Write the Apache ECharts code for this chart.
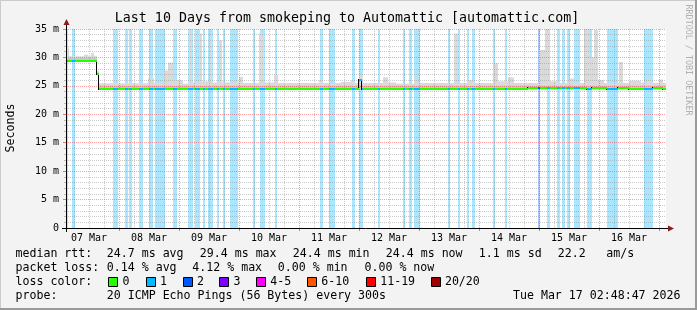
<!DOCTYPE html>
<html><head><meta charset="utf-8">
<script src="https://cdn.jsdelivr.net/npm/echarts@6/dist/echarts.min.js"></script>
<style>html,body{margin:0;padding:0;background:#f3f3f3;overflow:hidden}#c{width:697px;height:310px}</style>
</head><body><div id="c"></div>
<script>
// ---------------- DATA (x = hours since 07 Mar 00:00) ----------------
const chartTitle = 'Last 10 Days from smokeping to Automattic [automattic.com]';
const startHour = 2.8131;   // 07 Mar 02:48:47
const endHour = 242.8131;   // 17 Mar 02:48:47
const dayLabels = ['07 Mar','08 Mar','09 Mar','10 Mar','11 Mar','12 Mar','13 Mar','14 Mar','15 Mar','16 Mar'];
const dayLabelHours = [12,36,60,84,108,132,156,180,204,228];
const majorGridHours = [24,48,72,96,120,144,168,192,216,240];
const minorGridHours = [6,12,18,30,36,42,54,60,66,78,84,90,102,108,114,126,132,138,150,156,162,174,180,186,198,204,210,222,228,234];
const yMin = 0, yMax = 35, yStep = 5;

// loss background bars: [startHour, endHour, lostPings]
const lossBars = [
  [2.9,3.8,1],[5.4,6.3,1],[21.5,23.6,1],[26.3,27.5,1],[28.2,29.2,1],[32.2,33.5,1],
  [36.2,37.5,1],[38.3,42.3,1],[45.5,47.4,1],[51.6,53.8,1],[54.3,56.4,1],[57.8,58.4,1],
  [59.5,61.5,1],[63.4,64.2,1],[65.5,66.3,1],[68.4,71.6,1],[77.6,78.3,1],[80.4,82.3,1],
  [86.3,87.4,1],[104.4,105.5,1],[108.2,110.3,1],[117.4,118.3,1],[120.0,121.5,1],
  [127.6,128.4,1],[137.5,138.4,1],[140.2,141.4,1],[142.2,144.3,1],[155.6,156.4,1],
  [159.6,160.4,1],[163.4,164.2,1],[165.4,166.3,1],[173.5,174.4,1],[178.3,179.4,1],
  [191.8,192.3,2],[195.4,196.3,1],[199.4,200.3,1],[201.2,202.3,1],[203.4,204.3,1],
  [206.0,208.3,1],[211.4,213.4,1],[219.4,223.6,1],[234.0,237.6,1]
];

// median rtt (ms): [startHour, endHour, value]
const medianSegs = [
  [2.8131,15.2,29.3],[15.2,16.2,27.1],[16.2,120.0,24.4],[120.0,121.3,26.0],
  [121.3,187.5,24.4],[187.5,211.4,24.6],[211.4,213.4,24.4],[213.4,219.4,24.6],
  [219.4,223.6,24.5],[223.6,228.0,24.7],[228.0,234.0,24.5],[234.0,237.6,24.5],
  [237.6,241.5,24.6],[241.5,242.8131,24.4]
];

// smoke core band (ms): [startHour, endHour, low, high]
const smokeCore = [[2.8131,15.2,29.2,29.9],[15.2,16.2,26.9,27.4],[16.2,242.8131,24.4,25.0]];

// smoke spread (ms): [startHour, endHour, low, top]
const smokeSpread = [
  [2.8131,4.0,29.2,31.8],[4.0,10.0,29.2,30.2],[10.0,11.5,29.2,30.5],[11.5,13.0,29.2,30.2],
  [13.0,14.0,29.2,30.8],[14.0,15.2,29.2,30.3],[15.2,16.2,26.8,27.6],
  [16.2,35.5,24.4,25.45],[35.5,37.9,24.4,26.3],[37.9,41.8,24.4,25.5],[41.8,43.5,24.4,27.7],
  [43.5,45.5,24.4,29.1],[45.5,49.5,24.4,26.0],[49.5,51.9,24.4,25.4],[51.9,53.1,24.4,34.8],
  [53.1,55.9,24.4,25.6],[55.9,57.1,24.4,34.2],[57.1,59.9,24.4,25.8],[59.9,61.1,24.4,33.5],
  [61.1,63.9,24.4,25.6],[63.9,65.1,24.4,33.0],[65.1,71.9,24.4,25.6],[71.9,73.5,24.4,26.6],
  [73.5,79.9,24.4,25.5],[79.9,81.9,24.4,34.2],[81.9,85.9,24.4,25.6],[85.9,87.5,24.4,26.9],
  [87.5,103.9,24.4,25.5],[103.9,105.5,24.4,26.0],[105.5,112.7,24.4,25.5],[112.7,116.7,24.4,25.7],
  [116.7,117.9,24.4,26.0],[117.9,119.9,24.4,25.5],[119.9,121.5,24.4,26.9],[121.5,129.5,24.4,25.5],
  [129.5,131.5,24.4,26.5],[131.5,134.7,24.4,25.6],[134.7,141.9,24.4,25.4],[141.9,143.5,24.4,26.5],
  [143.5,157.9,24.4,25.5],[157.9,159.5,24.4,34.2],[159.5,163.1,24.4,25.5],[163.1,165.9,24.4,26.0],
  [165.9,173.9,24.4,25.5],[173.9,175.5,24.4,29.0],[175.5,179.5,24.4,25.8],[179.5,181.9,24.4,26.5],
  [181.9,191.9,24.4,25.5],[191.9,194.3,24.4,31.3],[194.3,195.9,24.4,35.0],[195.9,199.1,24.4,25.8],
  [199.1,203.5,24.4,25.5],[203.5,205.9,24.4,26.3],[205.9,209.9,24.4,25.5],[209.9,211.9,24.4,35.0],
  [211.9,213.9,24.4,30.0],[213.9,215.5,24.4,34.8],[215.5,217.9,24.4,26.0],[217.9,223.9,24.4,25.5],
  [223.9,225.5,24.4,29.2],[225.5,227.9,24.4,25.5],[227.9,232.7,24.4,25.9],[232.7,235.1,24.4,25.6],
  [235.1,236.7,24.4,26.3],[236.7,239.9,24.4,25.5],[239.9,241.5,24.4,26.1],[241.5,242.8131,24.4,25.5]
];

// legend texts
const statLabels = ['median rtt:','packet loss:','loss color:','probe:'];
const medianStats = ['24.7 ms avg','29.4 ms max','24.4 ms min','24.4 ms now','1.1 ms sd','22.2','am/s'];
const lossStats = ['0.14 % avg','4.12 % max','0.00 % min','0.00 % now'];
const lossLegend = ['0','1','2','3','4-5','6-10','11-19','20/20'];
const lossLegendColors = ['#26ff00','#00b8ff','#0059ff','#7e00ff','#ff00ff','#ff5500','#ff0000','#a10000'];
const probeText = '20 ICMP Echo Pings (56 Bytes) every 300s';
const dateText = 'Tue Mar 17 02:48:47 2026';
const yAxisTitle = 'Seconds';
const sideText = 'RRDTOOL / TOBI OETIKER';

// ---------------- RENDER ----------------
const FONT = 'DejaVu Sans Mono';
const lossColorOf = n => n <= 0 ? lossLegendColors[0] : n === 1 ? lossLegendColors[1] : n === 2 ? lossLegendColors[2] :
  n === 3 ? lossLegendColors[3] : n <= 5 ? lossLegendColors[4] : n <= 10 ? lossLegendColors[5] : n <= 19 ? lossLegendColors[6] : lossLegendColors[7];
function lossBg(n) { const c = echarts.color.parse(lossColorOf(n)); return 'rgba(' + c[0] + ',' + c[1] + ',' + c[2] + ',0.34)'; }

// median pieces split where loss bars begin/end: [start, end, value, loss]
const medianPieces = [];
medianSegs.forEach(([a, b, v]) => {
  const cuts = [a, b];
  lossBars.forEach(([s, e]) => { if (s > a && s < b) cuts.push(s); if (e > a && e < b) cuts.push(e); });
  cuts.sort((p, q) => p - q);
  for (let i = 0; i < cuts.length - 1; i++) {
    const m = (cuts[i] + cuts[i + 1]) / 2;
    const bar = lossBars.find(([s, e]) => m >= s && m <= e);
    medianPieces.push([cuts[i], cuts[i + 1], v, bar ? bar[2] : 0]);
  }
});
// vertical connectors where the median changes: [hour, fromValue, toValue]
const medianSteps = medianSegs.slice(1).map((s, i) => [s[0], medianSegs[i][2], s[2]]).filter(d => d[1] !== d[2]);

function rectRender(colorFn, full) {
  return function (params, api) {
    const x0 = api.value(0), x1 = api.value(1);
    const lo = full ? yMin : api.value(2), hi = full ? yMax : api.value(3);
    const p0 = api.coord([x0, hi]), p1 = api.coord([x1, lo]);
    const xa = Math.round(p0[0]), xb = Math.max(Math.round(p1[0]), xa + 1);
    return { type: 'rect', shape: { x: xa, y: p0[1], width: xb - xa, height: p1[1] - p0[1] }, style: { fill: colorFn(api) } };
  };
}

const chart = echarts.init(document.getElementById('c'), null, { renderer: 'canvas', width: 697, height: 310 });
const baseX = { type: 'value', min: startHour, max: endHour, position: 'bottom', z: 3, axisLine: { show: false } };

const graphics = [];
graphics.push({ type: 'rect', shape: { x: 0, y: 0, width: 697, height: 310 }, style: { fill: 'none', stroke: '#cbcbcb', lineWidth: 2 }, z: 100 });
graphics.push({ type: 'polyline', shape: { points: [[696, 0], [696, 309], [0, 309]] }, style: { stroke: '#9a9a9a', lineWidth: 2, fill: 'none' }, z: 101 });
graphics.push({ type: 'text', x: 347, y: 19, style: { text: chartTitle, font: '13.3px "' + FONT + '"', fill: '#000', align: 'center', verticalAlign: 'middle' }, z: 100 });
graphics.push({ type: 'text', x: 11, y: 128, rotation: Math.PI / 2, style: { text: yAxisTitle, font: '11.6px "' + FONT + '"', fill: '#000', align: 'center', verticalAlign: 'middle' }, z: 100 });
graphics.push({ type: 'text', x: 688, y: 60, rotation: -Math.PI / 2, style: { text: sideText, font: '8.4px "' + FONT + '"', fill: '#b0b0b0', align: 'center', verticalAlign: 'middle' }, z: 100 });
graphics.push({ type: 'line', shape: { x1: 66.5, y1: 232, x2: 66.5, y2: 24 }, style: { stroke: '#000', lineWidth: 1 }, z: 100 });
graphics.push({ type: 'line', shape: { x1: 62, y1: 228.5, x2: 669, y2: 228.5 }, style: { stroke: '#000', lineWidth: 1 }, z: 100 });
graphics.push({ type: 'polygon', shape: { points: [[63.5, 25], [69.5, 25], [66.5, 19]] }, style: { fill: '#8b1a1a' }, z: 101 });
graphics.push({ type: 'polygon', shape: { points: [[668, 225.5], [668, 231.5], [674, 228.5]] }, style: { fill: '#8b1a1a' }, z: 101 });
const lineY = [254, 268, 282, 296];
const txt = (t, x, y, align) => ({ type: 'text', x: x, y: y, style: { text: t, font: '11.6px "' + FONT + '"', fill: '#000', align: align || 'left', verticalAlign: 'middle' }, z: 100 });
statLabels.forEach((t, i) => graphics.push(txt(t, 15.5, lineY[i])));
const medX = [106.8, 199.8, 292.8, 385.8, 478.8, 557.8, 606.2];
medianStats.forEach((t, i) => graphics.push(txt(t, medX[i], lineY[0])));
const lossX = [106.8, 192.3, 277.8, 364.5];
lossStats.forEach((t, i) => graphics.push(txt(t, lossX[i], lineY[1])));
const boxX = [108.3, 145.7, 182.7, 219.3, 256, 307, 366, 430.7];
lossLegend.forEach((t, i) => {
  graphics.push({ type: 'rect', shape: { x: Math.round(boxX[i]) + 0.5, y: 277.5, width: 9, height: 9 }, style: { fill: lossLegendColors[i], stroke: '#000', lineWidth: 1 }, z: 100 });
  graphics.push(txt(t, boxX[i] + 14.2, lineY[2]));
});
graphics.push(txt(probeText, 106.8, lineY[3]));
graphics.push(txt(dateText, 680.5, lineY[3], 'right'));

chart.setOption({
  animation: false, backgroundColor: '#f3f3f3',
  grid: { left: 66, top: 29, width: 600, height: 199, show: true, backgroundColor: '#ffffff', borderWidth: 0 },
  xAxis: [
    Object.assign({}, baseX, {
      axisTick: { show: true, customValues: majorGridHours, length: 3, lineStyle: { color: 'rgba(220,40,40,0.6)' } },
      splitLine: { show: true, lineStyle: { color: 'rgba(255,40,40,0.45)', width: 1, type: [1, 1] } },
      axisLabel: { show: true, customValues: dayLabelHours, margin: 5, color: '#000', fontFamily: FONT, fontSize: 10,
        formatter: v => { const i = dayLabelHours.findIndex(h => Math.abs(h - v) < 0.01); return i >= 0 ? dayLabels[i] : ''; } }
    }),
    Object.assign({}, baseX, {
      axisTick: { show: false, customValues: minorGridHours },
      splitLine: { show: true, lineStyle: { color: 'rgba(150,150,150,0.5)', width: 1, type: [1, 1] } },
      axisLabel: { show: false }
    })
  ],
  yAxis: {
    type: 'value', min: yMin, max: yMax, interval: yStep, z: 3, axisLine: { show: false },
    axisTick: { show: true, length: 3, lineStyle: { color: 'rgba(220,40,40,0.6)' } },
    minorTick: { show: true, splitNumber: 5, length: 2, lineStyle: { color: 'rgba(150,150,150,0.6)' } },
    splitLine: { show: true, lineStyle: { color: 'rgba(255,40,40,0.45)', width: 1, type: [1, 1] } },
    minorSplitLine: { show: true, lineStyle: { color: 'rgba(150,150,150,0.5)', width: 1, type: [1, 1] } },
    axisLabel: { margin: 7, color: '#000', fontFamily: FONT, fontSize: 10, formatter: v => v === 0 ? '0' : v + ' m' }
  },
  series: [
    { type: 'custom', name: 'loss', z: 1, data: lossBars, encode: { x: [0, 1] }, renderItem: rectRender(api => lossBg(api.value(2)), true) },
    { type: 'custom', name: 'smoke', z: 2, data: smokeSpread, encode: { x: [0, 1], y: [2, 3] }, renderItem: rectRender(() => '#dadada', false) },
    { type: 'custom', name: 'smokeCore', z: 2, data: smokeCore, encode: { x: [0, 1], y: [2, 3] }, renderItem: rectRender(() => '#c8c8c8', false) },
    { type: 'custom', name: 'medianSteps', z: 4, data: medianSteps, encode: { x: 0, y: [1, 2] },
      renderItem: (params, api) => {
        const a = api.coord([api.value(0), api.value(1)]), b = api.coord([api.value(0), api.value(2)]);
        const x = Math.round(a[0]) - 1; const ya = Math.round(a[1]) - 1, yb = Math.round(b[1]) - 1;
        return { type: 'rect', shape: { x: x, y: Math.min(ya, yb), width: 1, height: Math.abs(yb - ya) + 2 }, style: { fill: '#000' } };
      } },
    { type: 'custom', name: 'median', z: 5, data: medianPieces, encode: { x: [0, 1], y: 2 },
      renderItem: (params, api) => {
        const p0 = api.coord([api.value(0), api.value(2)]), p1 = api.coord([api.value(1), api.value(2)]);
        const xa = Math.round(p0[0]), xb = Math.max(Math.round(p1[0]), xa + 1);
        const y = Math.round(p0[1]) - 1;
        return { type: 'rect', shape: { x: xa, y: y, width: xb - xa, height: 2 }, style: { fill: lossColorOf(api.value(3)) } };
      } }
  ],
  graphic: graphics
});
</script></body></html>
